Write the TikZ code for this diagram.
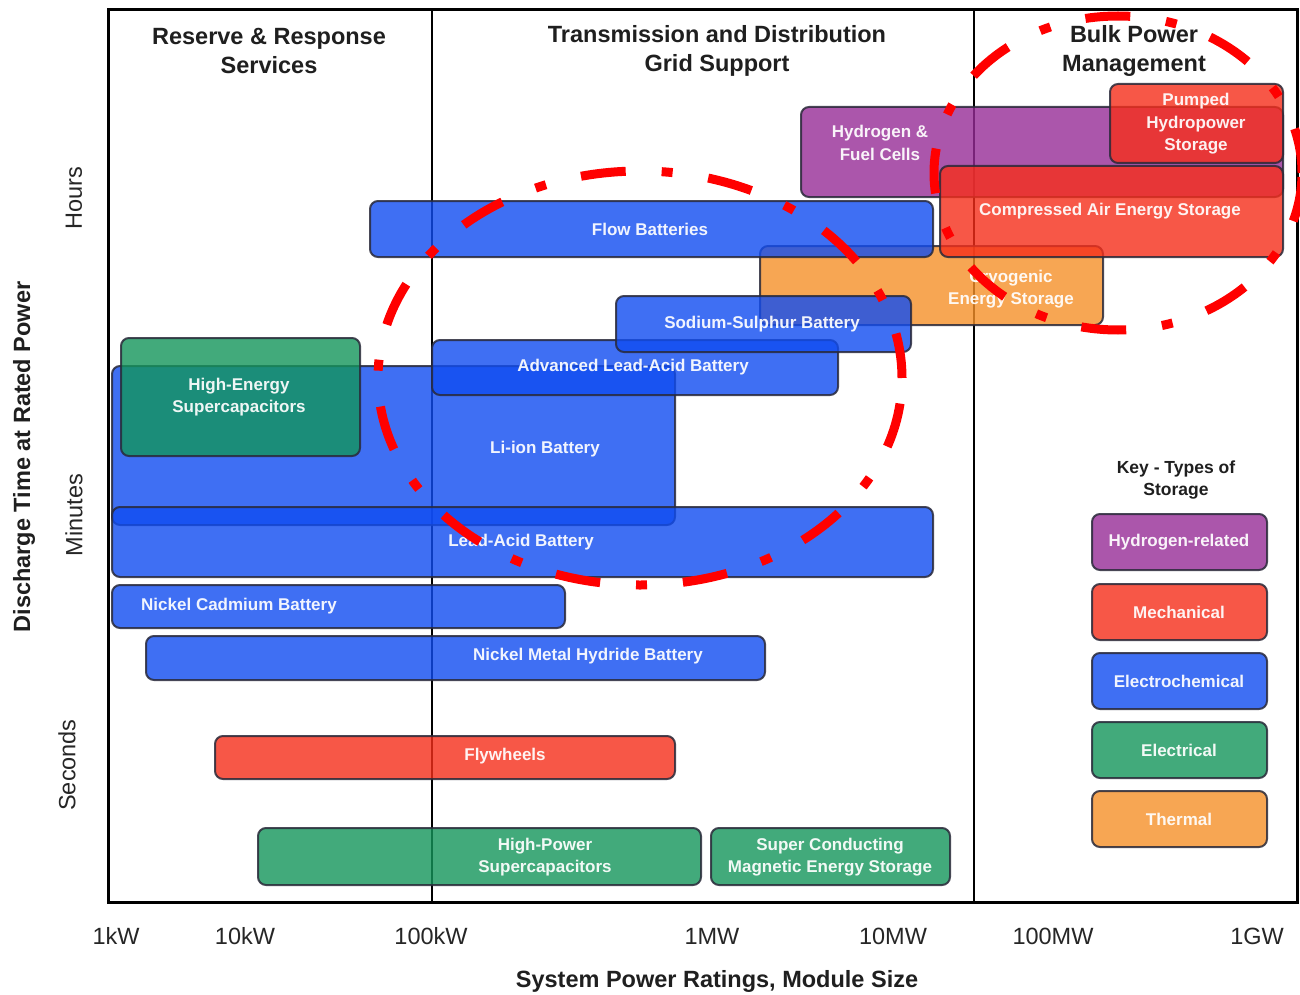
\documentclass[tikz,border=0pt]{standalone}
\usepackage{fontspec}
\setmainfont{Liberation Sans}
\usetikzlibrary{positioning}
\definecolor{hydfill}{HTML}{972C97}
\definecolor{mechfill}{HTML}{F62E1A}
\definecolor{chemfill}{HTML}{104CF1}
\definecolor{elfill}{HTML}{13955B}
\definecolor{thermfill}{HTML}{F59029}
\definecolor{boxedge}{HTML}{2A2A3A}
\definecolor{calloutred}{HTML}{FF0000}

\begin{document}
\begin{tikzpicture}[x=1pt, y=-1pt,
    frame/.style   = {draw=black, line width=3pt},
    divider/.style = {draw=black, line width=2.5pt},
    store/.style   = {draw=boxedge, draw opacity=0.85, line width=2pt,
                      rounded corners=8pt, fill opacity=0.8},
    hyd/.style     = {store, fill=hydfill},
    mech/.style    = {store, fill=mechfill},
    chem/.style    = {store, fill=chemfill},
    elst/.style    = {store, fill=elfill},
    therm/.style   = {store, fill=thermfill},
    lbl/.style     = {text=white, text opacity=0.93, align=center,
                      font=\fontsize{17}{22.5}\selectfont\bfseries},
    head/.style    = {align=center, text=black!88,
                      font=\fontsize{23.5}{29}\selectfont\bfseries},
    keyhead/.style = {align=center, text=black!88,
                      font=\fontsize{17.5}{22}\selectfont\bfseries},
    tick/.style    = {text=black!85, font=\fontsize{23.5}{28}\selectfont},
    callout/.style = {draw=calloutred, line width=9pt,
                      dash pattern=on 45pt off 36pt on 11pt off 36pt},
]

\fill[white] (0,0) rectangle (1300,995);
\useasboundingbox (0,0) rectangle (1300,995);

% --- chart frame and the three service bands ---------------------------
\draw[divider] (432,10) -- (432,902);
\draw[divider] (974,10) -- (974,902);
\draw[frame] (108,10) rectangle (1297,902);

\node[head] (reserve) at (269,51) {Reserve \& Response\\Services};
\node[head] (tandd)   at (717,51) {Transmission and Distribution\\Grid Support};
\node[head] (bulk)    at (1134,51) {Bulk Power\\Management};

% --- storage technologies ----------------------------------------------
\draw[chem]  (112,366) rectangle (675,525);   % li-ion
\draw[elst]  (121,338) rectangle (360,456);   % high-energy supercaps
\draw[chem]  (112,507) rectangle (933,577);   % lead-acid
\draw[chem]  (432,340) rectangle (838,395);   % advanced lead-acid
\draw[therm] (760,246) rectangle (1103,325);  % cryogenic
\draw[chem]  (616,296) rectangle (911,352);   % sodium-sulphur
\draw[chem]  (370,201) rectangle (933,257);   % flow
\draw[hyd]   (801,107) rectangle (1283,197);  % hydrogen
\draw[mech]  (940,166) rectangle (1283,257);  % compressed air
\draw[mech]  (1110,84) rectangle (1283,163);  % pumped hydro
\draw[chem]  (112,585) rectangle (565,628);   % nickel cadmium
\draw[chem]  (146,636) rectangle (765,680);   % nickel metal hydride
\draw[mech]  (215,736) rectangle (675,779);   % flywheels
\draw[elst]  (258,828) rectangle (701,885);   % high-power supercaps
\draw[elst]  (711,828) rectangle (950,885);   % smes

\node[lbl] (hydrogen) at (880,143)  {Hydrogen \&\\Fuel Cells};
\node[lbl] (pumped)   at (1196,124) {Pumped\\Hydropower\\Storage};
\node[lbl] (caes)     at (1110,211) {Compressed Air Energy Storage};
\node[lbl] (flow)     at (650,229)  {Flow Batteries};
\node[lbl] (cryo)     at (1011,289) {Cryogenic\\Energy Storage};
\node[lbl] (nas)      at (762,324)  {Sodium-Sulphur Battery};
\node[lbl] (advla)    at (633,367)  {Advanced Lead-Acid Battery};
\node[lbl] (hesc)     at (239,397)  {High-Energy\\Supercapacitors};
\node[lbl] (liion)    at (545,449)  {Li-ion Battery};
\node[lbl] (leadacid) at (521,542)  {Lead-Acid Battery};
\node[lbl] (nicd)     at (239,606)  {Nickel Cadmium Battery};
\node[lbl] (nimh)     at (588,656)  {Nickel Metal Hydride Battery};
\node[lbl] (flywheel) at (505,756)  {Flywheels};
\node[lbl] (hpsc)     at (545,857)  {High-Power\\Supercapacitors};
\node[lbl] (smes)     at (830,857)  {Super Conducting\\Magnetic Energy Storage};

% --- key ----------------------------------------------------------------
\node[keyhead] (keytitle) at (1176,480) {Key - Types of\\Storage};
\draw[hyd]   (1092,514) rectangle (1267,570);
\draw[mech]  (1092,584) rectangle (1267,640);
\draw[chem]  (1092,653) rectangle (1267,709);
\draw[elst]  (1092,722) rectangle (1267,778);
\draw[therm] (1092,791) rectangle (1267,847);
\node[lbl] (keyhyd)   at (1179,542) {Hydrogen-related};
\node[lbl] (keymech)  at (1179,612) {Mechanical};
\node[lbl] (keychem)  at (1179,681) {Electrochemical};
\node[lbl] (keyel)    at (1179,750) {Electrical};
\node[lbl] (keytherm) at (1179,819) {Thermal};

% --- axes ---------------------------------------------------------------
\foreach \x/\t [count=\i] in {116/1kW, 245/10kW, 431/100kW, 712/1MW,
                             893/10MW, 1053/100MW, 1257/1GW}
  \node[tick] (tick\i) at (\x,936) {\t};
\node[head] (xtitle) at (717,981) {System Power Ratings, Module Size};

\node[head, rotate=90] (ytitle) at (24,457) {Discharge Time at Rated Power};
\node[tick, rotate=90] (hours)   at (74,198) {Hours};
\node[tick, rotate=90] (minutes) at (74,515) {Minutes};
\node[tick, rotate=90] (seconds) at (67,765) {Seconds};

% --- red call-out rings -------------------------------------------------
\draw[callout] (640,378) ellipse [x radius=262pt, y radius=207pt];
\draw[callout] (1118,173) ellipse [x radius=184pt, y radius=157pt];

\end{tikzpicture}
\end{document}
